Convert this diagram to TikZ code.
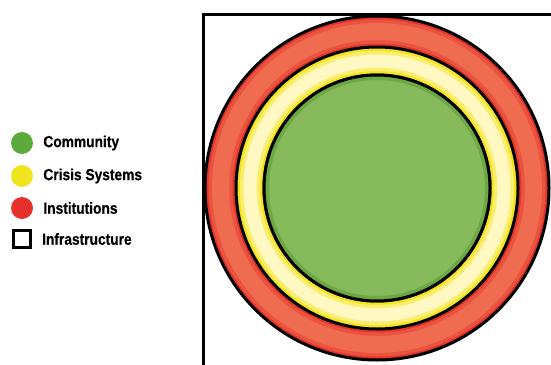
\documentclass[tikz,border=0pt]{standalone}
\usepackage{fontspec}
\usetikzlibrary{positioning}
\newfontfamily\legendfont{Liberation Sans}[FakeStretch=0.86, FakeBold=0.5]

\definecolor{instred}{HTML}{E4352A}
\definecolor{instlight}{HTML}{EF6C50}
\definecolor{instmid}{HTML}{EA5340}
\definecolor{crisisyellow}{HTML}{F4E420}
\definecolor{crisislight}{HTML}{FFF8C2}
\definecolor{crisismid}{HTML}{FAEE70}
\definecolor{commgreen}{HTML}{86BA5B}
\definecolor{commedge}{HTML}{6CA844}
\definecolor{keygreen}{HTML}{5DAA3C}
\definecolor{keyyellow}{HTML}{EEE51E}
\definecolor{keyred}{HTML}{E8302B}

\begin{document}
\begin{tikzpicture}[x=1pt, y=-1pt, every node/.style={inner sep=0pt},
    ring/.style={circle, draw=black, line width=3pt, minimum size=#1},
    key/.style={circle, minimum size=22pt},
    keytext/.style={font=\legendfont\bfseries\fontsize{16}{16}\selectfont}]
    \useasboundingbox (0,0) rectangle (551,364);
    \clip (0,0) rectangle (551,364);

    % infrastructure frame
    \node[draw, line width=3pt, minimum width=420pt, minimum height=400pt, anchor=north west] (infra) at (201.5,13) {};

    % institutions ring
    \coordinate (c) at (377,188);
    \node[ring=344pt, fill=instred] (inst) at (c) {};
    \draw[instmid, line width=24pt] (c) circle (156.5pt);
    \draw[instlight, line width=17pt] (c) circle (156.5pt);

    % crisis systems ring
    \node[ring=282pt, fill=crisisyellow] (crisis) at (c) {};
    \draw[crisismid, line width=20pt] (c) circle (127pt);
    \draw[crisislight, line width=13pt] (c) circle (127pt);

    % community
    \node[ring=226pt, fill=commgreen] (comm) at (c) {};
    \draw[commedge, line width=4pt] (c) circle (110pt);
    \node[circle, draw=black, line width=3pt, minimum size=226pt] (commline) at (c) {};

    % legend
    \node[key, fill=keygreen] (kcomm) at (22,143) {};
    \node[key, fill=keyyellow] (kcrisis) at (22,176) {};
    \node[key, fill=keyred] (kinst) at (22,208) {};
    \node[draw, line width=3pt, minimum size=17pt] (kinfra) at (22,239) {};

    \node[keytext, right=10pt of kcomm] (tcomm) {Community};
    \node[keytext, right=10pt of kcrisis] (tcrisis) {Crisis Systems};
    \node[keytext, right=10pt of kinst] (tinst) {Institutions};
    \node[keytext, right=10pt of kinfra] (tinfra) {Infrastructure};
\end{tikzpicture}
\end{document}
